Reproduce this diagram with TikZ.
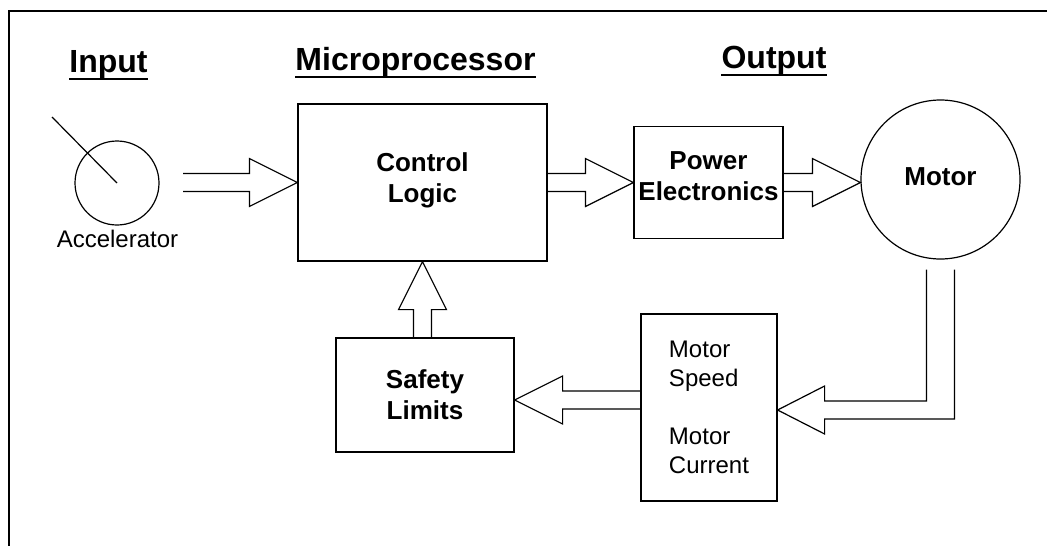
\documentclass[tikz,border=0pt]{standalone}
\usepackage{fontspec}
\setmainfont{Liberation Sans}
\usetikzlibrary{calc}
\newcommand{\fatarrow}[2]{%
  \coordinate (fab) at ($(#2)!48pt!(#1)$);
  \draw[fatline] ($(#1)!9pt!90:(#2)$) -- ($(fab)!9pt!90:(#2)$) -- ($(fab)!24pt!90:(#2)$)
    -- (#2) -- ($(fab)!24pt!-90:(#2)$) -- ($(fab)!9pt!-90:(#2)$) -- ($(#1)!9pt!-90:(#2)$);}

\begin{document}
\begin{tikzpicture}[x=1pt,y=-1pt,
    fatline/.style={line width=1.2pt},
    hdr/.style={font=\bfseries\fontsize{32}{38}\selectfont,inner sep=0pt,anchor=base},
    blk/.style={draw,fatline,inner sep=0pt,align=center,font=\bfseries\fontsize{26}{31}\selectfont},
    lbl/.style={font=\fontsize{24}{29}\selectfont,inner sep=0pt}]

	\useasboundingbox (0,0) rectangle (1047,546);
	\draw[line width=2.5pt] (9,546) -- (9,11) -- (1047,11);

	% headings
	\node[hdr] (hin) at (108.5,72) {Input};
	\node[hdr] (hmp) at (415.5,70) {Microprocessor};
	\node[hdr] (hout) at (774,68) {Output};
	\foreach \h in {hin,hmp,hout}
	  \draw[line width=2.8pt] ([yshift=-7pt]\h.base west) -- ([yshift=-7pt]\h.base east);

	% accelerator
	\node[circle,draw,fatline,minimum size=84pt] (acc) at (117,183) {};
	\coordinate (needle) at (52,117);
	\draw[fatline] (needle) -- (acc.center);
	\node[lbl,anchor=base] (acclbl) at (117.5,247) {Accelerator};

	% blocks
	\node[blk,minimum width=249pt,minimum height=157pt,text depth=10pt] (cl) at (422.5,182.5) {Control\\Logic};
	\node[blk,minimum width=149pt,minimum height=112pt,text depth=12pt] (pe) at (708.5,182.5) {Power\\Electronics};
	\node[blk,circle,minimum size=159pt,text depth=5pt] (motor) at (940.5,179.5) {Motor};
	\node[blk,minimum width=178pt,minimum height=114pt] (sl) at (425,395) {Safety\\Limits};
	\node[blk,font=\fontsize{24}{29}\selectfont,align=left,minimum width=136pt,minimum height=187pt] (ms) at (709,407.5) {Motor\\Speed\\[29pt]Motor\\Current};

	% hollow arrows
	\coordinate (accout) at (183,182.5);
	\fatarrow{accout}{cl.west}
	\fatarrow{cl.east}{pe.west}
	\coordinate (mtin) at (pe.east -| motor.west);
	\fatarrow{pe.east}{mtin}
	\coordinate (slup) at (sl.north -| cl.south);
	\fatarrow{slup}{cl.south}
	\coordinate (slin) at ([yshift=-5pt]sl.east);
	\coordinate (msout) at (slin -| ms.west);
	\fatarrow{msout}{slin}

	% feedback from the motor
	\coordinate (fbtip) at ([yshift=-2.5pt]ms.east);
	\draw[fatline] ($(motor.south)+(-14,10)$) |- ($(fbtip)+(47,-9)$) -- ++(0,-15) -- (fbtip)
	  -- ++(47,24) -- ++(0,-15) -| ($(motor.south)+(14,10)$);

\end{tikzpicture}
\end{document}
